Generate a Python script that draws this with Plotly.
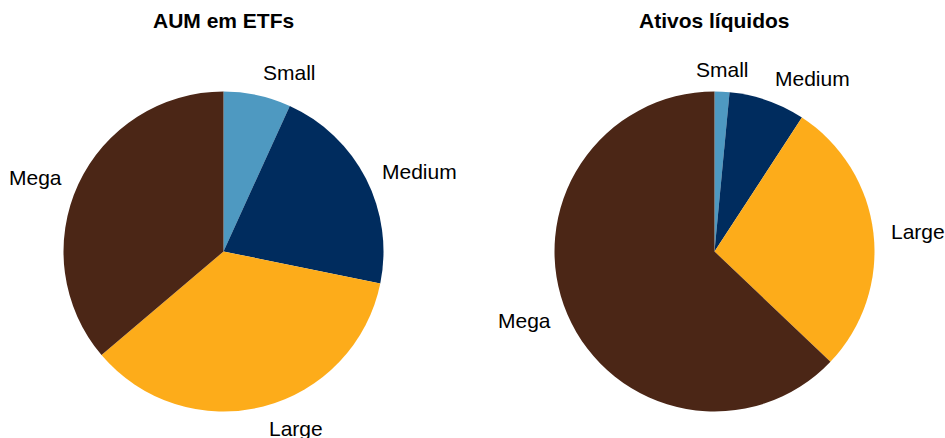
import math
import plotly.graph_objects as go

W, H = 945, 438

categories = ["Small", "Medium", "Large", "Mega"]
aum_etfs = [6.8, 21.4, 35.6, 36.2]
ativos_liquidos = [1.5, 7.7, 27.9, 62.9]
titles = ["AUM em ETFs", "Ativos líquidos"]
colors = ["#4E99C1", "#002C5E", "#FDAC1A", "#4B2616"]

# pie centres and radius in pixels
centres = [(223.5, 251.5), (714.5, 251.5)]
R = 160
LABEL_R = 1.1 * R
VERT_PULL = 7  # labels above/below a pie sit a little closer to it

FONT = "Liberation Sans, Arial, sans-serif"

fig = go.Figure()
annotations = []

for (cx, cy), vals, title in zip(centres, [aum_etfs, ativos_liquidos], titles):
    fig.add_trace(go.Pie(
        labels=categories,
        values=vals,
        sort=False,
        direction="clockwise",
        rotation=0,
        textinfo="none",
        hoverinfo="label+value",
        marker=dict(colors=colors, line=dict(width=0)),
        domain=dict(x=[(cx - R) / W, (cx + R) / W],
                    y=[1 - (cy + R) / H, 1 - (cy - R) / H]),
        showlegend=False,
    ))
    # category labels placed just outside each slice's mid-angle
    total = sum(vals)
    start = 0.0
    for cat, v in zip(categories, vals):
        mid = (start + v / 2) / total * 2 * math.pi
        start += v
        s, c = math.sin(mid), math.cos(mid)
        px = cx + LABEL_R * s
        py = cy - LABEL_R * c
        xa = "left" if s > 0.2 else ("right" if s < -0.2 else "center")
        ya = "bottom" if c > 0.7 else ("top" if c < -0.7 else "middle")
        if ya != "middle":
            py += VERT_PULL * c
        annotations.append(dict(
            x=px / W, y=1 - py / H, xref="paper", yref="paper",
            text=cat, showarrow=False, xanchor=xa, yanchor=ya,
            font=dict(family=FONT, size=21, color="#000000"),
        ))
    annotations.append(dict(
        x=cx / W, y=1 - 20.5 / H, xref="paper", yref="paper",
        text="<b>%s</b>" % title, showarrow=False,
        xanchor="center", yanchor="middle",
        font=dict(family=FONT, size=21, color="#000000"),
    ))

fig.update_layout(
    width=W, height=H,
    margin=dict(l=0, r=0, t=0, b=0),
    paper_bgcolor="white",
    plot_bgcolor="white",
    annotations=annotations,
)

fig.write_html("out.html")
